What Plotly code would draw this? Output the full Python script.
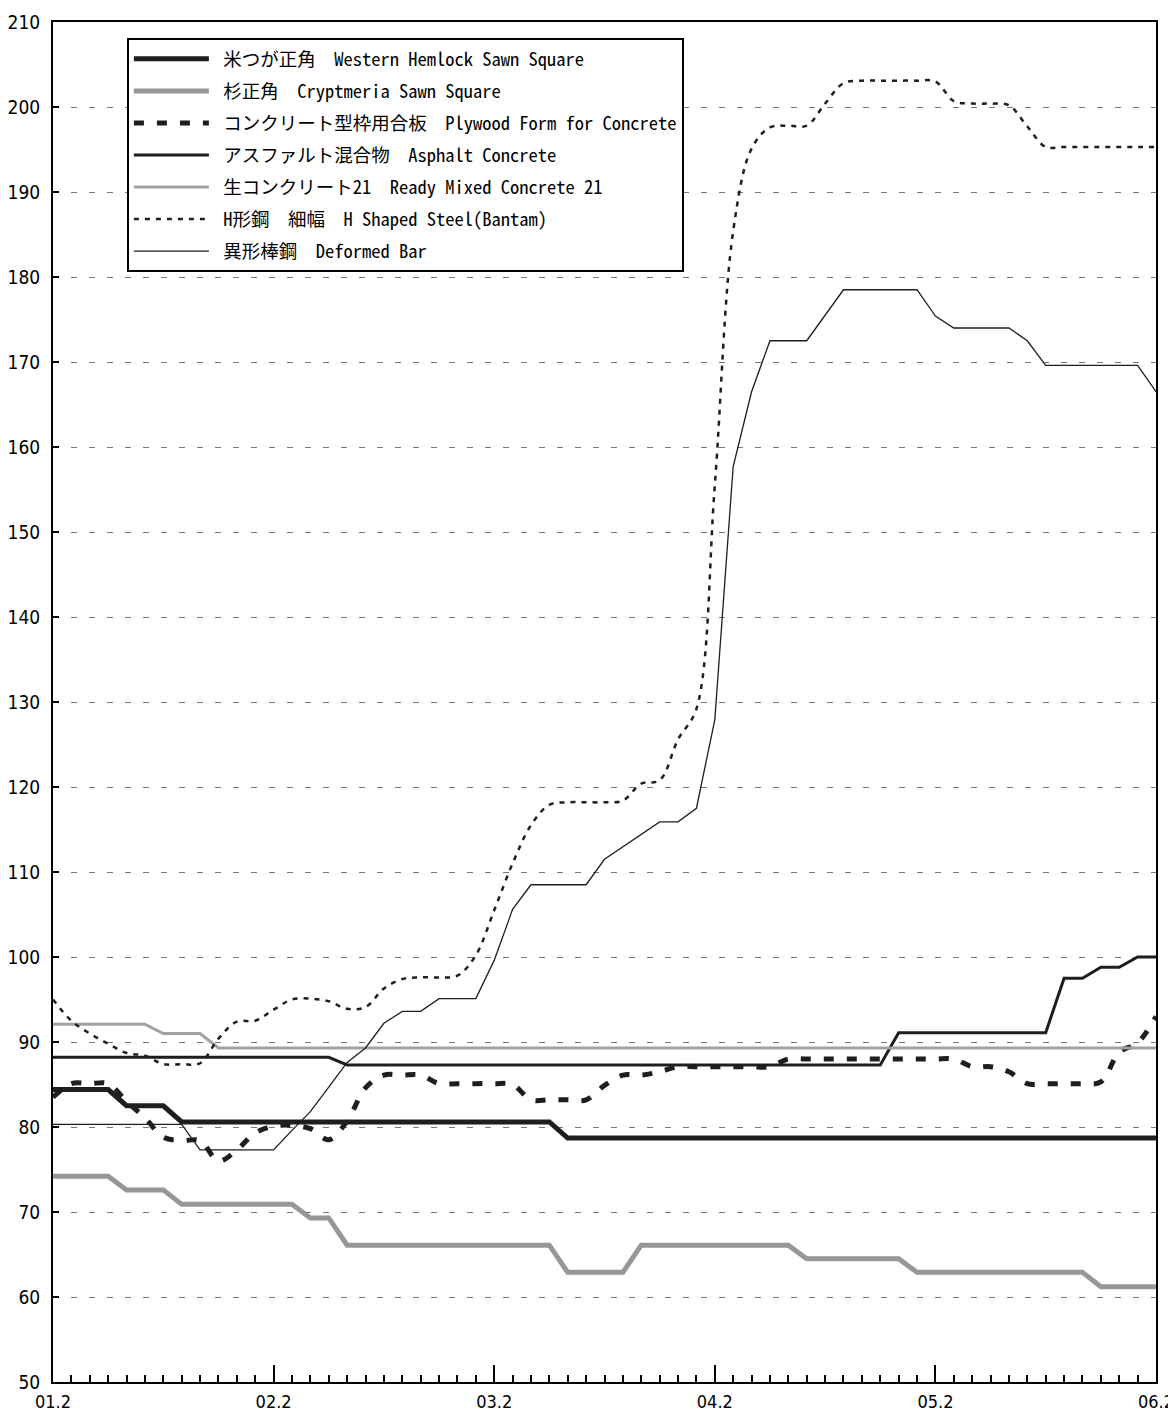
import plotly.graph_objects as go

# === DATOS: índices mensuales 01.2 -> 06.2 (61 meses) ===
months = list(range(61))
year_ticks = [0, 12, 24, 36, 48, 60]
year_labels = ['01.2', '02.2', '03.2', '04.2', '05.2', '06.2']

hemlock = [84.4, 84.4, 84.4, 84.4, 82.5, 82.5, 82.5, 80.6, 80.6, 80.6,
           80.6, 80.6, 80.6, 80.6, 80.6, 80.6, 80.6, 80.6, 80.6, 80.6,
           80.6, 80.6, 80.6, 80.6, 80.6, 80.6, 80.6, 80.6, 78.7, 78.7,
           78.7, 78.7, 78.7, 78.7, 78.7, 78.7, 78.7, 78.7, 78.7, 78.7,
           78.7, 78.7, 78.7, 78.7, 78.7, 78.7, 78.7, 78.7, 78.7, 78.7,
           78.7, 78.7, 78.7, 78.7, 78.7, 78.7, 78.7, 78.7, 78.7, 78.7,
           78.7]

cryptomeria = [74.2, 74.2, 74.2, 74.2, 72.6, 72.6, 72.6, 70.9, 70.9, 70.9,
               70.9, 70.9, 70.9, 70.9, 69.3, 69.3, 66.1, 66.1, 66.1, 66.1,
               66.1, 66.1, 66.1, 66.1, 66.1, 66.1, 66.1, 66.1, 62.9, 62.9,
               62.9, 62.9, 66.1, 66.1, 66.1, 66.1, 66.1, 66.1, 66.1, 66.1,
               66.1, 64.5, 64.5, 64.5, 64.5, 64.5, 64.5, 62.9, 62.9, 62.9,
               62.9, 62.9, 62.9, 62.9, 62.9, 62.9, 62.9, 61.2, 61.2, 61.2,
               61.2]

plywood = [83.5, 85.1, 85.1, 85.1, 83.0, 81.1, 78.8, 78.4, 78.4, 76.0,
           77.3, 79.3, 80.1, 80.2, 79.8, 78.5, 80.7, 84.6, 86.1, 86.1,
           86.1, 85.1, 85.1, 85.1, 85.1, 85.0, 83.2, 83.2, 83.2, 83.2,
           84.9, 86.1, 86.1, 86.5, 87.1, 87.1, 87.1, 87.1, 87.1, 87.1,
           88.0, 88.0, 88.0, 88.0, 88.0, 88.0, 88.0, 88.0, 88.0, 88.0,
           87.1, 87.1, 86.5, 85.1, 85.1, 85.1, 85.1, 85.3, 88.8, 89.9,
           93.0]

asphalt = [88.2, 88.2, 88.2, 88.2, 88.2, 88.2, 88.2, 88.2, 88.2, 88.2,
           88.2, 88.2, 88.2, 88.2, 88.2, 88.2, 87.3, 87.3, 87.3, 87.3,
           87.3, 87.3, 87.3, 87.3, 87.3, 87.3, 87.3, 87.3, 87.3, 87.3,
           87.3, 87.3, 87.3, 87.3, 87.3, 87.3, 87.3, 87.3, 87.3, 87.3,
           87.3, 87.3, 87.3, 87.3, 87.3, 87.3, 91.1, 91.1, 91.1, 91.1,
           91.1, 91.1, 91.1, 91.1, 91.1, 97.5, 97.5, 98.8, 98.8, 100.0,
           100.0]

ready_mixed = [92.1, 92.1, 92.1, 92.1, 92.1, 92.1, 91.0, 91.0, 91.0, 89.3,
               89.3, 89.3, 89.3, 89.3, 89.3, 89.3, 89.3, 89.3, 89.3, 89.3,
               89.3, 89.3, 89.3, 89.3, 89.3, 89.3, 89.3, 89.3, 89.3, 89.3,
               89.3, 89.3, 89.3, 89.3, 89.3, 89.3, 89.3, 89.3, 89.3, 89.3,
               89.3, 89.3, 89.3, 89.3, 89.3, 89.3, 89.3, 89.3, 89.3, 89.3,
               89.3, 89.3, 89.3, 89.3, 89.3, 89.3, 89.3, 89.3, 89.3, 89.3,
               89.3]

h_steel = [95.0, 92.5, 91.0, 89.8, 88.7, 88.4, 87.4, 87.4, 87.5, 90.4,
           92.4, 92.5, 93.8, 95.0, 95.1, 94.8, 93.9, 94.1, 96.3, 97.4,
           97.6, 97.6, 97.8, 100.2, 105.5, 111.0, 115.5, 117.9, 118.2, 118.2,
           118.2, 118.4, 120.4, 120.8, 125.6, 129.2, 155.5, 185.4, 195.1, 197.6,
           197.8, 197.8, 200.4, 202.8, 203.1, 203.1, 203.1, 203.1, 203.0, 200.7,
           200.4, 200.4, 200.2, 197.7, 195.3, 195.3, 195.3, 195.3, 195.3, 195.3,
           195.3]

deformed = [80.3, 80.3, 80.3, 80.3, 80.3, 80.3, 80.3, 80.3, 77.3, 77.3,
            77.3, 77.3, 77.3, 79.6, 81.8, 84.7, 87.6, 89.3, 92.2, 93.6,
            93.6, 95.1, 95.1, 95.1, 99.6, 105.6, 108.5, 108.5, 108.5, 108.5,
            111.5, 113.0, 114.5, 115.9, 115.9, 117.5, 127.9, 157.7, 166.5, 172.5,
            172.5, 172.5, 175.5, 178.5, 178.5, 178.5, 178.5, 178.5, 175.4, 174.0,
            174.0, 174.0, 174.0, 172.5, 169.6, 169.6, 169.6, 169.6, 169.6, 169.6,
            166.5]

SP = '\u00a0\u00a0'
series = [
    ('米つが正角' + SP + 'Western Hemlock Sawn Square', hemlock,
     dict(color='#1e1e1e', width=5), 'linear'),
    ('杉正角' + SP + 'Cryptmeria Sawn Square', cryptomeria,
     dict(color='#96979a', width=5), 'linear'),
    ('コンクリート型枠用合板' + SP + 'Plywood Form for Concrete', plywood,
     dict(color='#1e1e1e', width=5, dash='10px,13px'), 'spline'),
    ('アスファルト混合物' + SP + 'Asphalt Concrete', asphalt,
     dict(color='#1e1e1e', width=3), 'linear'),
    ('生コンクリート21' + SP + 'Ready Mixed Concrete 21', ready_mixed,
     dict(color='#a0a1a4', width=3), 'linear'),
    ('H形鋼' + SP + '細幅' + SP + 'H Shaped Steel(Bantam)', h_steel,
     dict(color='#1e1e1e', width=2.5, dash='5px,6px'), 'spline'),
    ('異形棒鋼' + SP + 'Deformed Bar', deformed,
     dict(color='#1e1e1e', width=1.3), 'linear'),
]

fig = go.Figure()
for i, (name, vals, line, shape) in enumerate(series):
    line = dict(line, shape=shape)
    fig.add_trace(go.Scatter(
        x=months, y=vals, name='\u00a0' + name, mode='lines', line=line,
        legendgroup=f'g{i}'
    ))

tick_font = dict(family='Liberation Sans Narrow, DejaVu Sans Condensed, sans-serif',
                 size=19, color='black')

# la página deja 8px de margen en el body: se compensa en el tamaño
fig.update_layout(
    width=1168, height=1406,
    margin=dict(l=45, r=20, t=14, b=32),
    paper_bgcolor='white', plot_bgcolor='white',
    showlegend=True,
    legend=dict(
        x=0.067, y=0.988, xanchor='left', yanchor='top',
        bgcolor='white', bordercolor='black', borderwidth=2,
        font=dict(family='Noto Sans Mono CJK JP, Noto Sans CJK JP, sans-serif',
                  size=18.5, color='black'),
        tracegroupgap=5, itemwidth=75,
    ),
)

fig.update_xaxes(
    range=[0, 60], automargin=False,
    tickmode='array', tickvals=year_ticks, ticktext=year_labels,
    ticks='inside', ticklen=17, tickwidth=1.5, tickcolor='black',
    minor=dict(tickmode='linear', tick0=0, dtick=1, ticks='inside',
               ticklen=7, tickwidth=1.5, tickcolor='black'),
    showline=True, linewidth=2, linecolor='black', mirror=True,
    showgrid=False, zeroline=False,
    tickfont=dict(tick_font, size=18), ticklabelstandoff=2,
)
fig.update_yaxes(
    range=[50, 210], dtick=10, automargin=False,
    ticks='inside', ticklen=6, tickwidth=2, tickcolor='black',
    showline=True, linewidth=2, linecolor='black', mirror=True,
    showgrid=True, gridcolor='#777777', gridwidth=1.3, griddash='6px,12px',
    zeroline=False,
    tickfont=tick_font, ticklabelstandoff=7,
)

fig.write_html("out.html")
